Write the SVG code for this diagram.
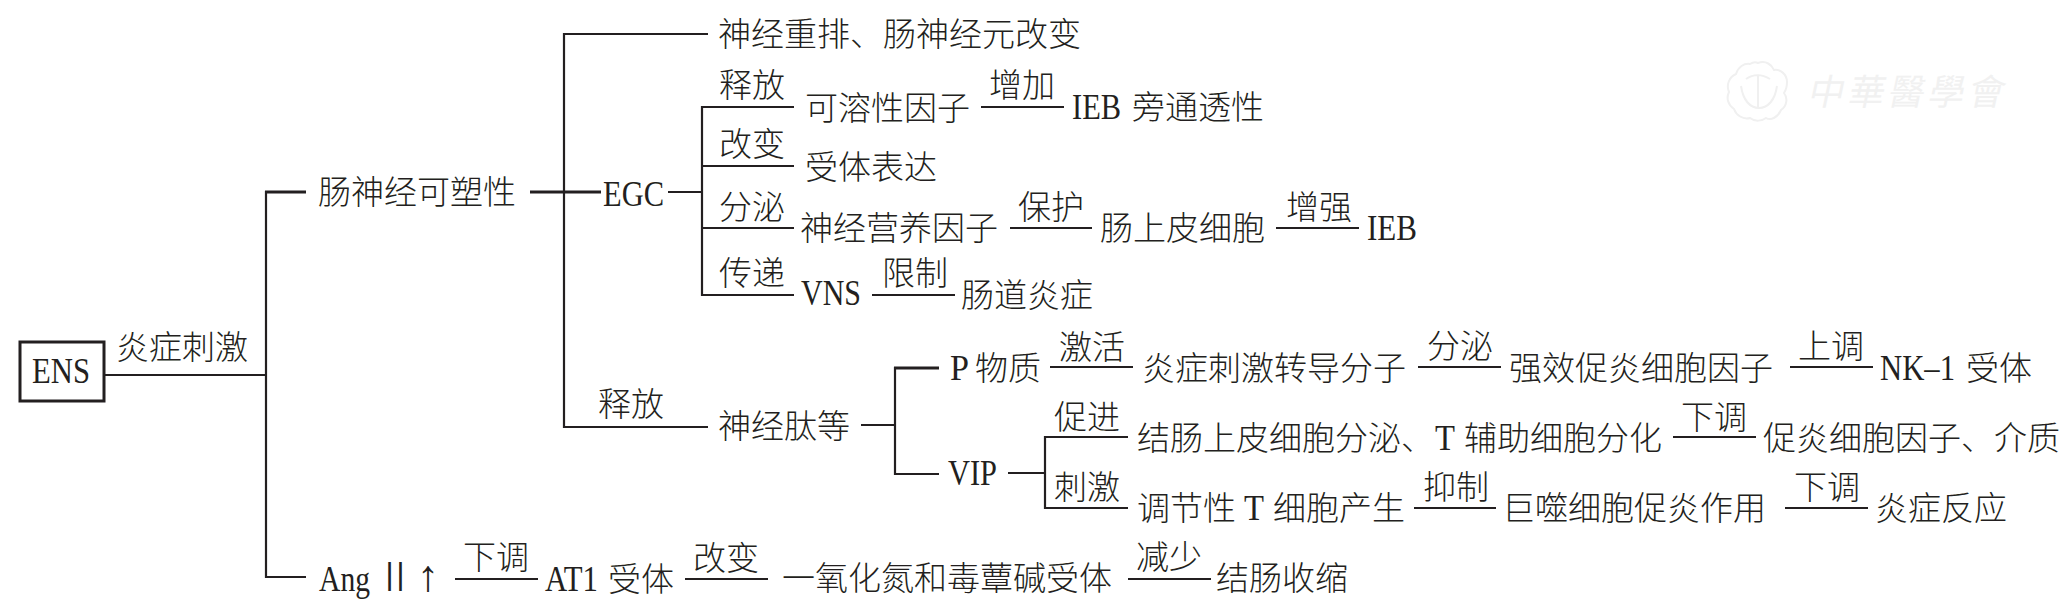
<svg xmlns="http://www.w3.org/2000/svg" width="2068" height="601" viewBox="0 0 2068 601">
<style>
text{font-family:"Liberation Serif","Noto Sans CJK SC",serif;font-size:33px;fill:#231f20;font-weight:300}
.l{font-size:35px;font-weight:400}
.c line{stroke:#231f20;stroke-width:2.2;fill:none}
.c .b{stroke-width:3}
.box{fill:none;stroke:#231f20;stroke-width:3}
.wm{fill:none;stroke:#f0f0f0;stroke-width:2}
.wt{font-size:36px;fill:#f1f1f1;font-weight:400}
</style>
<rect width="2068" height="601" fill="#fff"/>
<g id="connectors" class="c">
<line x1="104" y1="375" x2="266" y2="375"/>
<line x1="266" y1="191" x2="266" y2="578"/>
<line x1="265" y1="192" x2="306" y2="192" class="b"/>
<line x1="265" y1="577" x2="306" y2="577"/>
<line x1="530" y1="192" x2="601" y2="192" class="b"/>
<line x1="564" y1="33" x2="564" y2="428"/>
<line x1="563" y1="34" x2="708" y2="34"/>
<line x1="563" y1="427" x2="708" y2="427"/>
<line x1="668" y1="192" x2="702" y2="192"/>
<line x1="702" y1="106" x2="702" y2="296"/>
<line x1="701" y1="107" x2="794" y2="107"/>
<line x1="701" y1="166" x2="794" y2="166"/>
<line x1="701" y1="228" x2="794" y2="228"/>
<line x1="701" y1="295" x2="794" y2="295"/>
<line x1="981" y1="107" x2="1064" y2="107"/>
<line x1="1010" y1="228" x2="1092" y2="228"/>
<line x1="1276" y1="228" x2="1359" y2="228"/>
<line x1="872" y1="295" x2="955" y2="295"/>
<line x1="861" y1="425" x2="895" y2="425"/>
<line x1="895" y1="367" x2="895" y2="475"/>
<line x1="894" y1="368" x2="939" y2="368" class="b"/>
<line x1="894" y1="474" x2="939" y2="474"/>
<line x1="1050" y1="367" x2="1133" y2="367"/>
<line x1="1418" y1="367" x2="1501" y2="367"/>
<line x1="1790" y1="367" x2="1873" y2="367"/>
<line x1="1008" y1="473" x2="1045" y2="473"/>
<line x1="1045" y1="436" x2="1045" y2="509"/>
<line x1="1044" y1="437" x2="1128" y2="437"/>
<line x1="1044" y1="508" x2="1128" y2="508"/>
<line x1="1673" y1="437" x2="1756" y2="437"/>
<line x1="1414" y1="508" x2="1496" y2="508"/>
<line x1="1785" y1="508" x2="1868" y2="508"/>
<line x1="455" y1="579" x2="538" y2="579"/>
<line x1="685" y1="579" x2="768" y2="579"/>
<line x1="1128" y1="579" x2="1211" y2="579"/>
</g>
<g id="watermark">
<path class="wm" d="M1758 63c8-3 14 2 16 7c6-1 13 4 13 12c0 5-1 8-3 11c4 5 3 13-3 17c-3 7-10 11-15 8c-4 3-11 4-16 0c-7 2-14-3-16-9c-6-4-8-11-5-17c-3-7 0-15 7-18c2-7 8-11 14-10c3-2 6-2 8-1z"/>
<path class="wm" d="M1741 86c2 14 9 22 18 22s16-8 18-22M1758 76v32M1746 79c7-5 16-5 24 0"/>
<text class="wt" x="1810" y="105" letter-spacing="4" transform="skewX(-12) translate(19 0)">中華醫學會</text>
</g>
<g id="ens"><rect class="box" x="20" y="342" width="84" height="59"/><text class="l" x="32" y="383" textLength="58" lengthAdjust="spacingAndGlyphs">ENS</text></g>
<g id="l-yanzheng"><text x="116" y="359">炎症刺激</text></g>
<g id="n-plasticity"><text x="318" y="204">肠神经可塑性</text></g>
<g id="n-egc"><text class="l" x="603" y="206" textLength="61" lengthAdjust="spacingAndGlyphs">EGC</text></g>
<g id="n-rearrange"><text x="718" y="46">神经重排、肠神经元改变</text></g>
<g id="l-release1"><text x="719" y="97">释放</text></g>
<g id="n-soluble"><text x="805" y="120">可溶性因子</text></g>
<g id="l-add"><text x="989" y="97">增加</text></g>
<g id="n-ieb1"><text y="119"><tspan class="l" x="1072" textLength="49" lengthAdjust="spacingAndGlyphs">IEB</tspan><tspan x="1132">旁通透性</tspan></text></g>
<g id="l-change1"><text x="719" y="156">改变</text></g>
<g id="n-receptor"><text x="805" y="179">受体表达</text></g>
<g id="l-secrete1"><text x="719" y="219">分泌</text></g>
<g id="n-ntf"><text x="800" y="240">神经营养因子</text></g>
<g id="l-protect"><text x="1018" y="219">保护</text></g>
<g id="n-iec"><text x="1100" y="240">肠上皮细胞</text></g>
<g id="l-enhance"><text x="1286" y="219">增强</text></g>
<g id="n-ieb2"><text class="l" x="1367" y="240" textLength="50" lengthAdjust="spacingAndGlyphs">IEB</text></g>
<g id="l-transmit"><text x="719" y="285">传递</text></g>
<g id="n-vns"><text class="l" x="801" y="305" textLength="60" lengthAdjust="spacingAndGlyphs">VNS</text></g>
<g id="l-limit"><text x="882" y="285">限制</text></g>
<g id="n-gut"><text x="961" y="307">肠道炎症</text></g>
<g id="l-release2"><text x="598" y="416">释放</text></g>
<g id="n-peptide"><text x="718" y="438">神经肽等</text></g>
<g id="n-p"><text y="380"><tspan class="l" x="950" textLength="19" lengthAdjust="spacingAndGlyphs">P</tspan><tspan x="975">物质</tspan></text></g>
<g id="l-activate"><text x="1059" y="359">激活</text></g>
<g id="n-transducer"><text x="1142" y="380">炎症刺激转导分子</text></g>
<g id="l-secrete2"><text x="1427" y="358">分泌</text></g>
<g id="n-cytokine"><text x="1509" y="380">强效促炎细胞因子</text></g>
<g id="l-up"><text x="1798" y="358">上调</text></g>
<g id="n-nk1"><text y="380"><tspan class="l" x="1880" textLength="75" lengthAdjust="spacingAndGlyphs">NK–1</tspan><tspan x="1966">受体</tspan></text></g>
<g id="n-vip"><text class="l" x="948" y="485" textLength="49" lengthAdjust="spacingAndGlyphs">VIP</text></g>
<g id="l-promote"><text x="1054" y="429">促进</text></g>
<g id="n-colon"><text y="450"><tspan x="1137">结肠上皮细胞分泌、</tspan><tspan class="l" x="1435" textLength="20" lengthAdjust="spacingAndGlyphs">T</tspan><tspan x="1464">辅助细胞分化</tspan></text></g>
<g id="l-down1"><text x="1681" y="429">下调</text></g>
<g id="n-proinflam"><text x="1763" y="450">促炎细胞因子、介质</text></g>
<g id="l-stim"><text x="1054" y="499">刺激</text></g>
<g id="n-treg"><text y="520"><tspan x="1137">调节性</tspan><tspan class="l" x="1244" textLength="20" lengthAdjust="spacingAndGlyphs">T</tspan><tspan x="1273">细胞产生</tspan></text></g>
<g id="l-inhibit"><text x="1423" y="499">抑制</text></g>
<g id="n-macro"><text x="1502" y="520">巨噬细胞促炎作用</text></g>
<g id="l-down2"><text x="1794" y="499">下调</text></g>
<g id="n-inflam"><text x="1875" y="520">炎症反应</text></g>
<g id="n-ang"><text y="591"><tspan class="l" x="319" textLength="51" lengthAdjust="spacingAndGlyphs">Ang</tspan><tspan x="375" style="font-size:40px">Ⅱ</tspan><tspan x="417" style="font-size:44px">↑</tspan></text></g>
<g id="l-down3"><text x="463" y="569">下调</text></g>
<g id="n-at1"><text y="591"><tspan class="l" x="545" textLength="53" lengthAdjust="spacingAndGlyphs">AT1</tspan><tspan x="608">受体</tspan></text></g>
<g id="l-change2"><text x="693" y="570">改变</text></g>
<g id="n-no"><text x="782" y="590">一氧化氮和毒蕈碱受体</text></g>
<g id="l-reduce"><text x="1136" y="569">减少</text></g>
<g id="n-contract"><text x="1216" y="590">结肠收缩</text></g>
</svg>
